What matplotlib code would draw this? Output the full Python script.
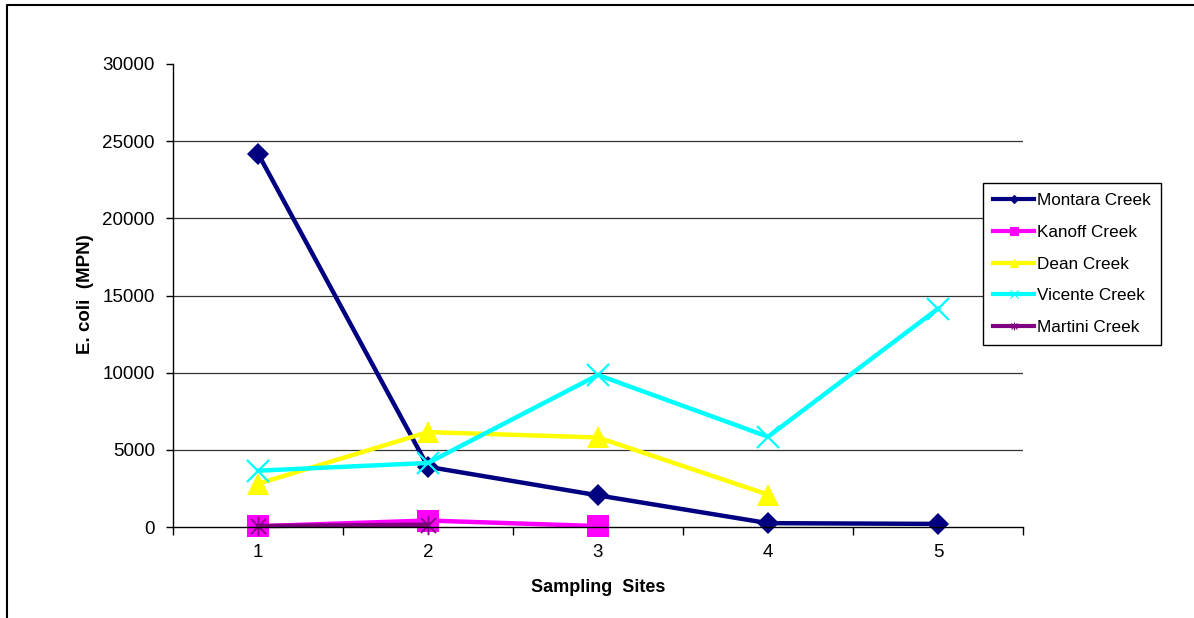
import matplotlib
matplotlib.use("Agg")
import matplotlib.pyplot as plt
from matplotlib.lines import Line2D
from matplotlib.path import Path

# Sampling sites and E. coli counts (MPN) per creek
sites = [1, 2, 3, 4, 5]
montara = [24200, 3900, 2050, 250, 200]
kanoff = [50, 420, 60]
dean = [2800, 6150, 5800, 2100]
vicente = [3650, 4150, 9850, 5850, 14150]
martini = [60, 150]

series_names = ["Montara Creek", "Kanoff Creek", "Dean Creek", "Vicente Creek", "Martini Creek"]
series_values = [montara, kanoff, dean, vicente, martini]

y_ticks = [0, 5000, 10000, 15000, 20000, 25000, 30000]

# Asterisk marker: an "x" crossed by a vertical stroke
star_path = Path(
    [(-1, -1), (1, 1), (-1, 1), (1, -1), (0, -1.3), (0, 1.3)],
    [Path.MOVETO, Path.LINETO, Path.MOVETO, Path.LINETO, Path.MOVETO, Path.LINETO],
)

styles = [
    dict(color="#000080", marker="D", ms=11, mew=0),
    dict(color="#FF00FF", marker="s", ms=15.5, mew=0),
    dict(color="#FFFF00", marker="^", ms=16, mew=0),
    dict(color="#00FFFF", marker="x", ms=15.5, mew=1.6),
    dict(color="#800080", marker=star_path, ms=14, mew=1.3),
]

plt.rcParams["font.family"] = ["Liberation Sans", "DejaVu Sans"]

W, H = 1194, 618
fig = plt.figure(figsize=(W / 100, H / 100), dpi=100)
ax = fig.add_axes([173 / W, 1 - 527 / H, (1023 - 173) / W, (527 - 64) / H])

for name, vals, st in zip(series_names, series_values, styles):
    ax.plot(sites[:len(vals)], vals, color=st["color"], lw=3.2, marker=st["marker"],
            markersize=st["ms"], markeredgewidth=st["mew"],
            markeredgecolor=st["color"], markerfacecolor=st["color"],
            label=name, clip_on=False, solid_joinstyle="round")

ax.set_xlim(0.5, 5.5)
ax.set_ylim(0, 30000)
ax.set_yticks(y_ticks)
ax.set_yticklabels([str(v) for v in y_ticks], fontsize=13.5)
ax.set_xticks(sites)
ax.set_xticklabels([str(s) for s in sites], fontsize=13.5)
ax.set_xticks([s - 0.5 for s in sites] + [5.5], minor=True)
ax.tick_params(axis="x", which="major", length=0, pad=12)
ax.tick_params(axis="x", which="minor", length=6, width=1, color="black", direction="out")
ax.tick_params(axis="y", length=5, width=1, color="black", pad=8)

for v in y_ticks[1:-1]:
    ax.axhline(v, color="#333333", lw=0.9, zorder=0)

for s in ["top", "right"]:
    ax.spines[s].set_visible(False)
for s in ["left", "bottom"]:
    ax.spines[s].set_color("black")
    ax.spines[s].set_linewidth(1)

fig.text(86 / W, 1 - 294 / H, "E. coli  (MPN)", rotation=90, fontsize=13.5,
         fontweight="bold", ha="center", va="center")
fig.text(598 / W, 1 - 587 / H, "Sampling  Sites", fontsize=13,
         fontweight="bold", ha="center", va="center")

handles = [
    Line2D([], [], color=st["color"], lw=3, marker=st["marker"],
           markersize=st["ms"] * 0.4, markeredgewidth=0.8,
           markeredgecolor=st["color"], markerfacecolor=st["color"])
    for st in styles
]
leg = fig.legend(handles, series_names, loc="upper left",
                 bbox_to_anchor=(983 / W, 1 - 183 / H), borderaxespad=0,
                 fontsize=12.3, frameon=True, fancybox=False, shadow=False,
                 handlelength=2.4, handletextpad=0.15, labelspacing=0.98,
                 borderpad=0.6)
leg.get_frame().set_edgecolor("black")
leg.get_frame().set_linewidth(1)
leg.get_frame().set_alpha(1)

# Outer chart border (top and left edges)
fig.add_artist(Line2D([7 / W, 7 / W, 1], [0, 1 - 5 / H, 1 - 5 / H],
                      color="black", lw=1.5, transform=fig.transFigure))

fig.savefig("out.png", dpi=100)
